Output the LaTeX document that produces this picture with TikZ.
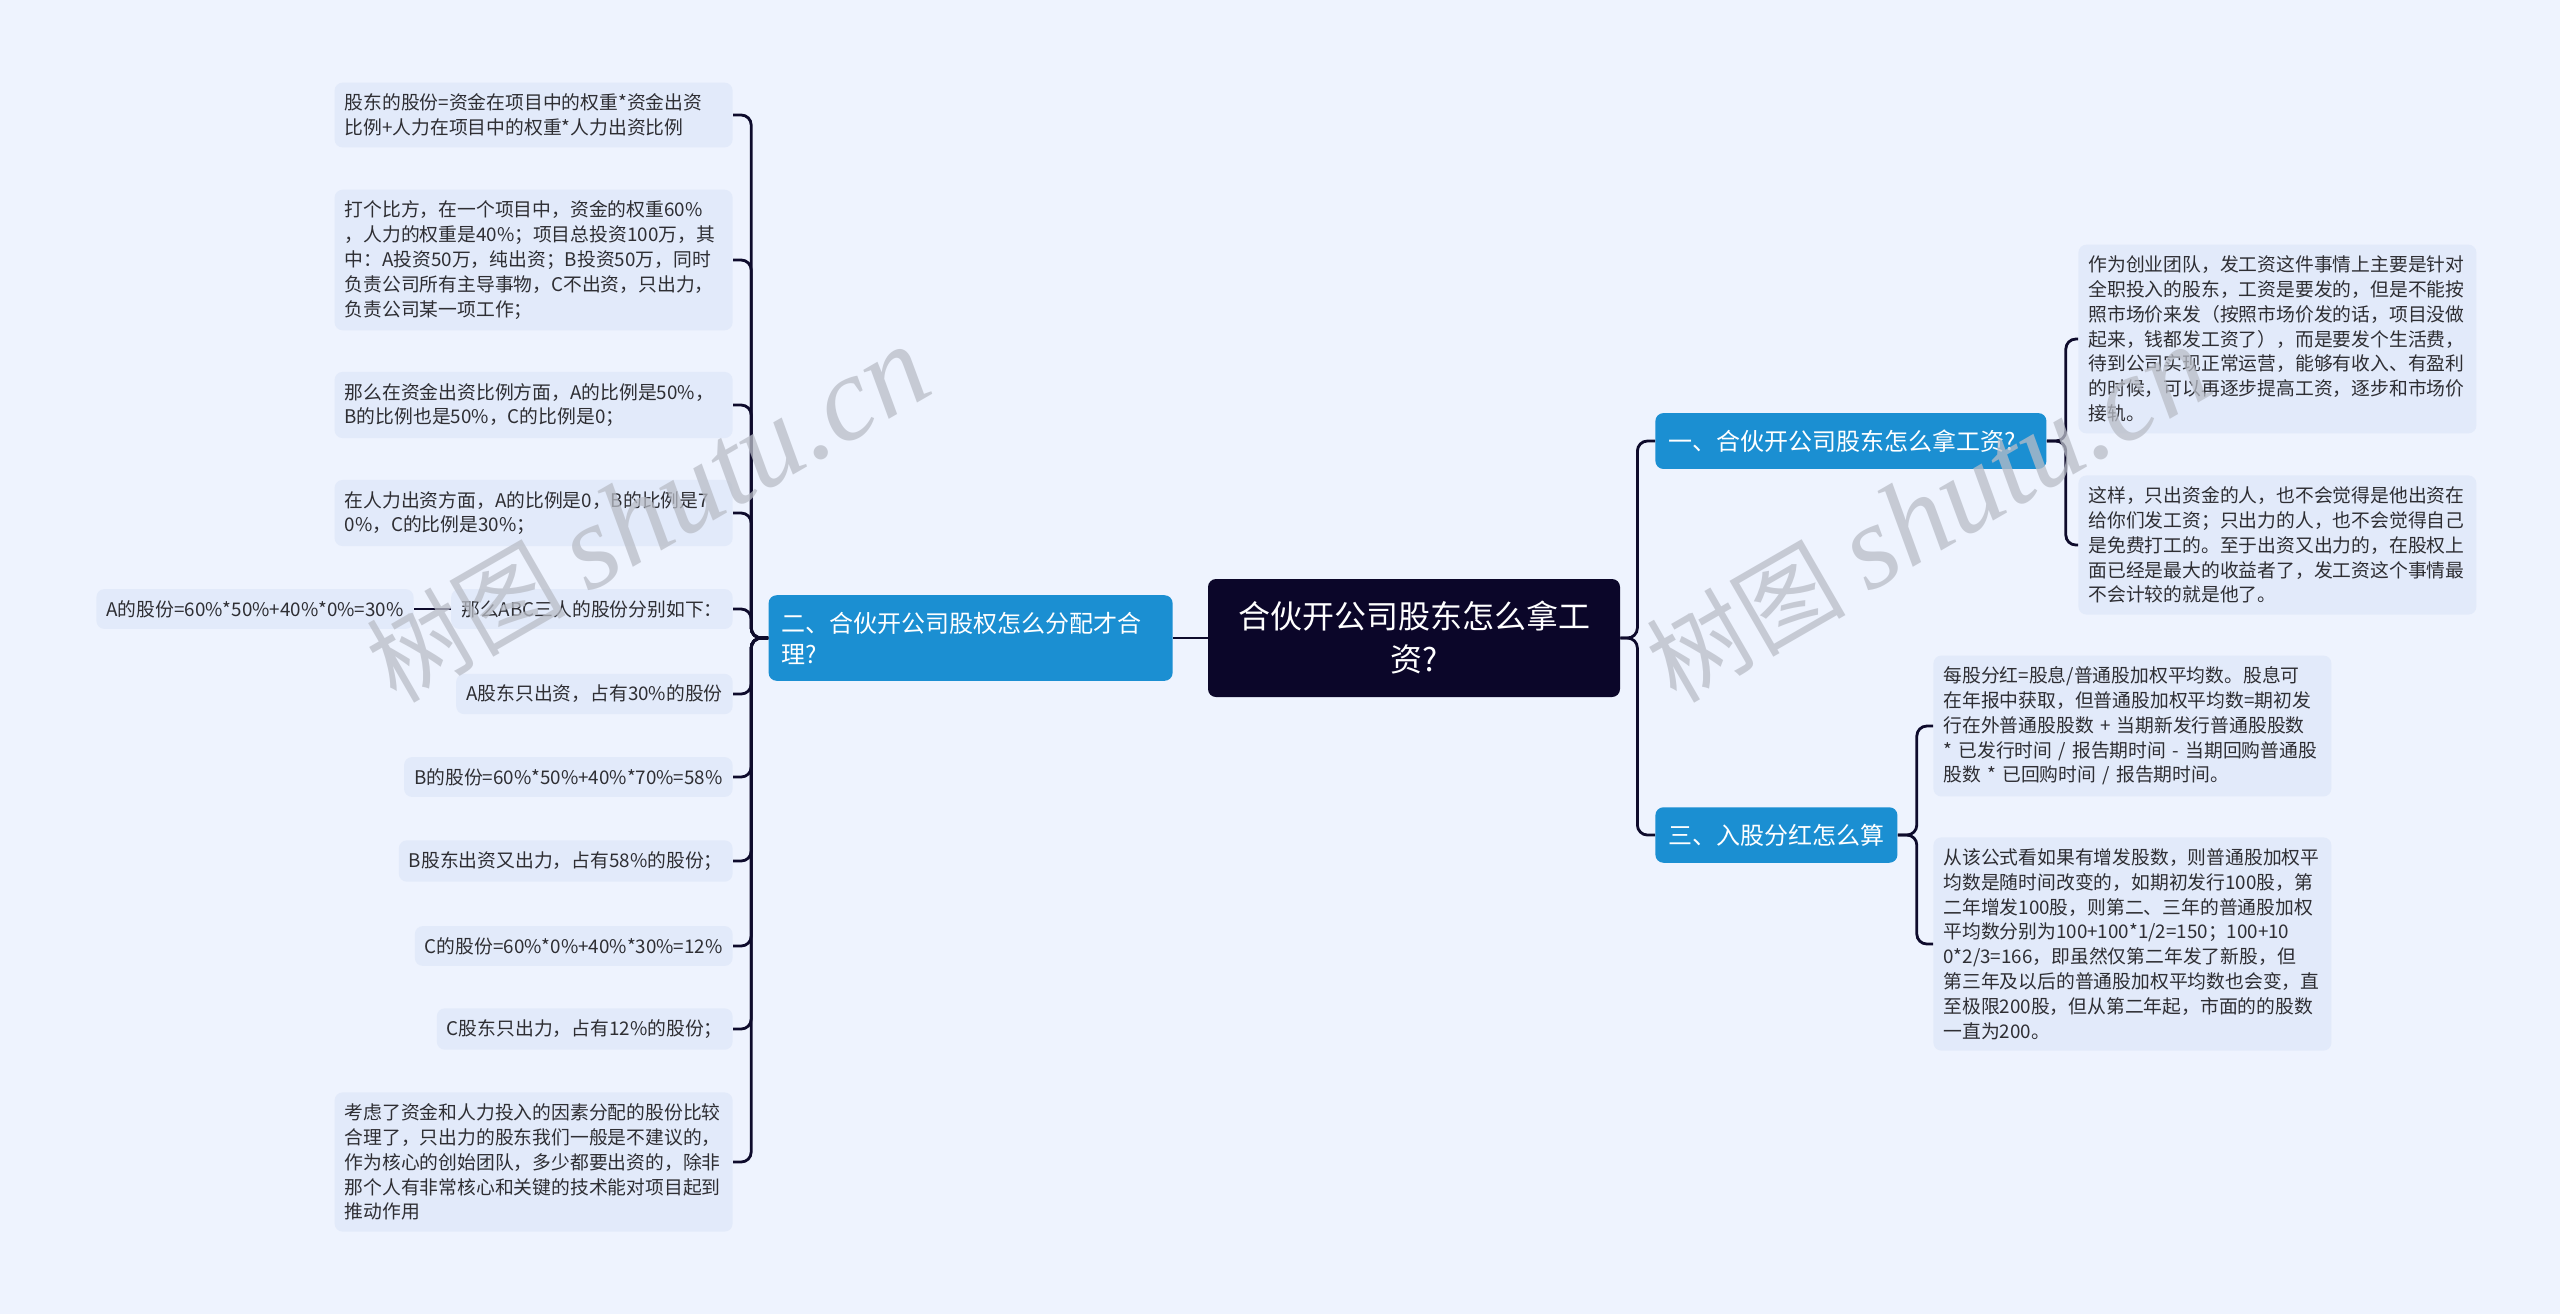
\documentclass[tikz,border=0pt]{standalone}
\usepackage{fontspec}
\setmainfont{Noto Sans CJK SC}
\newfontfamily\wmlatin{Liberation Serif}
\definecolor{bgblue}{HTML}{EEF3FE}
\definecolor{leafblue}{HTML}{E2EAFA}
\definecolor{leafgray}{HTML}{2E2E33}
\definecolor{branchblue}{HTML}{1B8FD2}
\definecolor{rootnavy}{HTML}{0B0629}
\definecolor{linknavy}{HTML}{0E0B2C}
\definecolor{wmgray}{HTML}{B9BDC7}

\begin{document}
\begin{tikzpicture}[
      x=0.5pt, y=-0.5pt,
      leaf/.style={fill=leafblue, text=leafgray, rounded corners=4pt,
        inner xsep=5pt, inner ysep=5.6pt, align=left,
        font=\fontsize{9.4}{12.4}\selectfont},
      wide/.style={text width=189pt},
      branch/.style={fill=branchblue, text=white, rounded corners=4pt,
        inner xsep=6.5pt, inner ysep=8.3pt, align=left,
        font=\fontsize{12}{15.5}\selectfont},
      rootbox/.style={fill=rootnavy, text=white, rounded corners=4pt,
        minimum width=206pt, minimum height=59pt, align=center,
        font=\fontsize{16}{21.5}\selectfont},
      link/.style={draw=linknavy, line width=1.4pt, rounded corners=5pt},
      wmark/.style={text=wmgray, opacity=0.75, rotate=30, inner sep=0pt}
    ]
    \useasboundingbox (0,0) rectangle (2560,1314);
    \fill[bgblue] (0,0) rectangle (2560,1314);

    \node (root) [rootbox] at (1414,638) {合伙开公司股东怎么拿工\\资?};

    \node (1) [branch, anchor=west, text width=182.5pt] at (1655,441) {一、合伙开公司股东怎么拿工资?};
    \node (2) [branch, anchor=east, text width=189pt] at (1173,638) {二、合伙开公司股权怎么分配才合\\理?};
    \node (3) [branch, anchor=west] at (1655,835) {三、入股分红怎么算};

    \node (1-0) [leaf, wide, anchor=west] at (2078,339) {作为创业团队，发工资这件事情上主要是针对\\
全职投入的股东，工资是要发的，但是不能按\\
照市场价来发（按照市场价发的话，项目没做\\
起来，钱都发工资了），而是要发个生活费，\\
待到公司实现正常运营，能够有收入、有盈利\\
的时候，可以再逐步提高工资，逐步和市场价\\
接轨。};
    \node (1-1) [leaf, wide, anchor=west] at (2078,545) {这样，只出资金的人，也不会觉得是他出资在\\
给你们发工资；只出力的人，也不会觉得自己\\
是免费打工的。至于出资又出力的，在股权上\\
面已经是最大的收益者了，发工资这个事情最\\
不会计较的就是他了。};

    \node (3-0) [leaf, wide, anchor=west] at (1933,726) {每股分红=股息/普通股加权平均数。股息可\\
在年报中获取，但普通股加权平均数=期初发\\
行在外普通股股数 + 当期新发行普通股股数\\
{*} 已发行时间 / 报告期时间 - 当期回购普通股\\
股数 * 已回购时间 / 报告期时间。};
    \node (3-1) [leaf, wide, anchor=west] at (1933,944) {从该公式看如果有增发股数，则普通股加权平\\
均数是随时间改变的，如期初发行100股，第\\
二年增发100股，则第二、三年的普通股加权\\
平均数分别为100+100*1/2=150；100+10\\
0*2/3=166，即虽然仅第二年发了新股，但\\
第三年及以后的普通股加权平均数也会变，直\\
至极限200股，但从第二年起，市面的的股数\\
一直为200。};

    \node (2-0) [leaf, wide, anchor=east] at (733,115) {股东的股份=资金在项目中的权重*资金出资\\
比例+人力在项目中的权重*人力出资比例};
    \node (2-1) [leaf, wide, anchor=east] at (733,260) {打个比方，在一个项目中，资金的权重60\%\\
，人力的权重是40\%；项目总投资100万，其\\
中：A投资50万，纯出资；B投资50万，同时\\
负责公司所有主导事物，C不出资，只出力，\\
负责公司某一项工作；};
    \node (2-2) [leaf, wide, anchor=east] at (733,405) {那么在资金出资比例方面，A的比例是50\%，\\
B的比例也是50\%，C的比例是0；};
    \node (2-3) [leaf, wide, anchor=east] at (733,513) {在人力出资方面，A的比例是0，B的比例是7\\
0\%，C的比例是30\%；};
    \node (2-4) [leaf, anchor=east] at (733,609) {那么ABC三人的股份分别如下：};
    \node (2-4-0) [leaf, anchor=east] at (414,609) {A的股份=60\%*50\%+40\%*0\%=30\%};
    \node (2-5) [leaf, anchor=east] at (733,694) {A股东只出资，占有30\%的股份};
    \node (2-6) [leaf, anchor=east] at (733,777) {B的股份=60\%*50\%+40\%*70\%=58\%};
    \node (2-7) [leaf, anchor=east] at (733,861) {B股东出资又出力，占有58\%的股份；};
    \node (2-8) [leaf, anchor=east] at (733,946) {C的股份=60\%*0\%+40\%*30\%=12\%};
    \node (2-9) [leaf, anchor=east] at (733,1029) {C股东只出力，占有12\%的股份；};
    \node (2-10) [leaf, wide, anchor=east] at (733,1162) {考虑了资金和人力投入的因素分配的股份比较\\
合理了，只出力的股东我们一般是不建议的，\\
作为核心的创始团队，多少都要出资的，除非\\
那个人有非常核心和关键的技术能对项目起到\\
推动作用};

    \draw[link] (root.west) -- (2.east);
    \foreach \c in {1,3}
      \draw[link] (root.east) -- ++(17,0) |- (\c.west);
    \foreach \i in {0,...,10}
      \draw[link] (2.west) -- ++(-17,0) |- (2-\i.east);
    \draw[link] (2-4.west) -- (2-4-0.east);
    \foreach \i in {0,1} {
      \draw[link] (1.east) -- ++(19,0) |- (1-\i.west);
      \draw[link] (3.east) -- ++(19,0) |- (3-\i.west);
    }

    \node (wm1) [wmark] at (648,515) {\fontsize{50}{50}\selectfont 树图 {\wmlatin\itshape\fontsize{60}{60}\selectfont shutu.cn}};
    \node (wm2) [wmark] at (1928,515) {\fontsize{50}{50}\selectfont 树图 {\wmlatin\itshape\fontsize{60}{60}\selectfont shutu.cn}};
  \end{tikzpicture}
\end{document}
